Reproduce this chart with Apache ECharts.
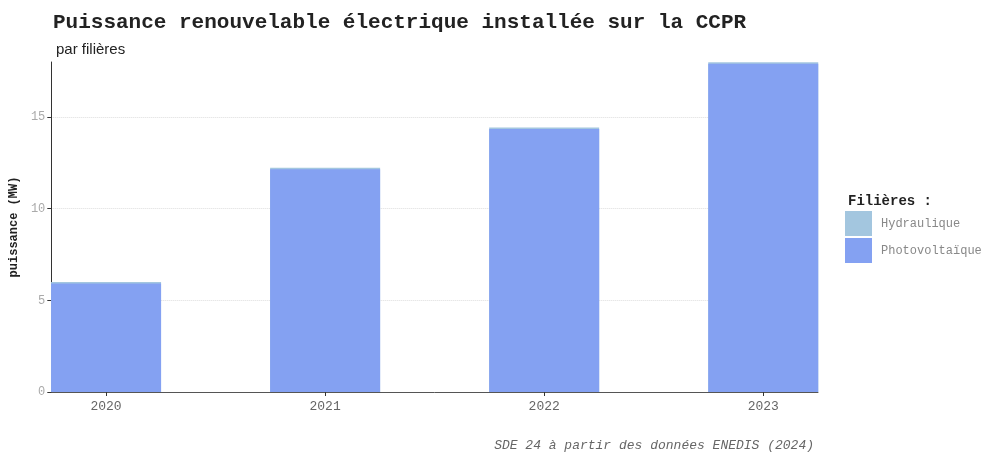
<!DOCTYPE html>
<html>
<head>
<meta charset="utf-8">
<script src="https://cdn.jsdelivr.net/npm/echarts@6/dist/echarts.min.js"></script>
<style>
  html, body { margin: 0; padding: 0; background: #fff; }
  #main { width: 992px; height: 452px; }
</style>
</head>
<body>
<div id="main"></div>
<script>
// données (MW)
const annees = ['2020', '2021', '2022', '2023'];
const photovoltaique = [5.92, 12.15, 14.35, 17.9];
const hydraulique = [0.08, 0.08, 0.08, 0.08];
const yTicks = [0, 5, 10, 15];

const mono = 'Liberation Mono';
const myChart = echarts.init(document.getElementById('main'));

// les deux axes sont "value" : on superpose (total derrière, PV devant) au lieu d'empiler
const totals = photovoltaique.map((v, i) => v + hydraulique[i]);

const option = {
  backgroundColor: '#ffffff',
  animation: false,
  title: [
    {
      text: 'Puissance renouvelable électrique installée sur la CCPR',
      left: 48, top: 7,
      textStyle: { fontFamily: mono, fontWeight: 'bold', fontSize: 21, color: '#222' }
    },
    {
      text: 'par filières',
      left: 51, top: 37,
      textStyle: { fontFamily: 'Liberation Sans', fontWeight: 'normal', fontSize: 15, color: '#222' }
    },
    {
      text: 'SDE 24 à partir des données ENEDIS (2024)',
      right: 173, top: 434,
      textStyle: { fontFamily: mono, fontStyle: 'italic', fontWeight: 'normal', fontSize: 13, color: '#666' }
    },
    {
      text: 'Filières :',
      left: 843, top: 189,
      textStyle: { fontFamily: mono, fontWeight: 'bold', fontSize: 14, color: '#222' }
    }
  ],
  legend: {
    data: ['Hydraulique', 'Photovoltaïque'],
    orient: 'vertical',
    left: 845, top: 211,
    padding: 0,
    itemWidth: 27, itemHeight: 25, itemGap: 2,
    icon: 'rect',
    textStyle: { fontFamily: mono, fontSize: 12, color: '#888', padding: [0, 0, 0, 4] }
  },
  grid: { left: 50, right: 174, top: 62, bottom: 60 },
  xAxis: {
    type: 'value',
    min: 0.75, max: 4.25,
    axisLine: { show: true, lineStyle: { color: '#555', width: 1 } },
    axisTick: { show: true, length: 4, lineStyle: { color: '#333' }, customValues: [1, 2, 3, 4] },
    axisLabel: {
      customValues: [1, 2, 3, 4],
      formatter: v => annees[Math.round(v) - 1] || '',
      fontFamily: mono, fontSize: 13, color: '#666', margin: 8
    },
    splitLine: { show: false }
  },
  yAxis: {
    type: 'value',
    min: 0, max: 18,
    name: 'puissance (MW)',
    nameLocation: 'middle',
    nameGap: 31,
    nameTextStyle: { fontFamily: mono, fontWeight: 'bold', fontSize: 12, color: '#222' },
    axisLine: { show: true, lineStyle: { color: '#333', width: 1 } },
    axisTick: { show: true, length: 4, lineStyle: { color: '#333' }, customValues: yTicks },
    axisLabel: { customValues: yTicks, fontFamily: mono, fontSize: 12, color: '#aaa', margin: 6 },
    splitLine: { show: true, lineStyle: { color: '#ddd', type: 'dotted', width: 1 } }
  },
  series: [
    {
      name: 'Hydraulique',
      type: 'bar',
      barWidth: 110,
      barGap: '-100%',
      z: 2,
      itemStyle: { color: '#a3c6df' },
      data: totals.map((v, i) => [i + 1, v])
    },
    {
      name: 'Photovoltaïque',
      type: 'bar',
      barWidth: 110,
      barGap: '-100%',
      z: 3,
      itemStyle: { color: '#84a1f2' },
      data: photovoltaique.map((v, i) => [i + 1, v])
    }
  ]
};

myChart.setOption(option);
</script>
</body>
</html>
